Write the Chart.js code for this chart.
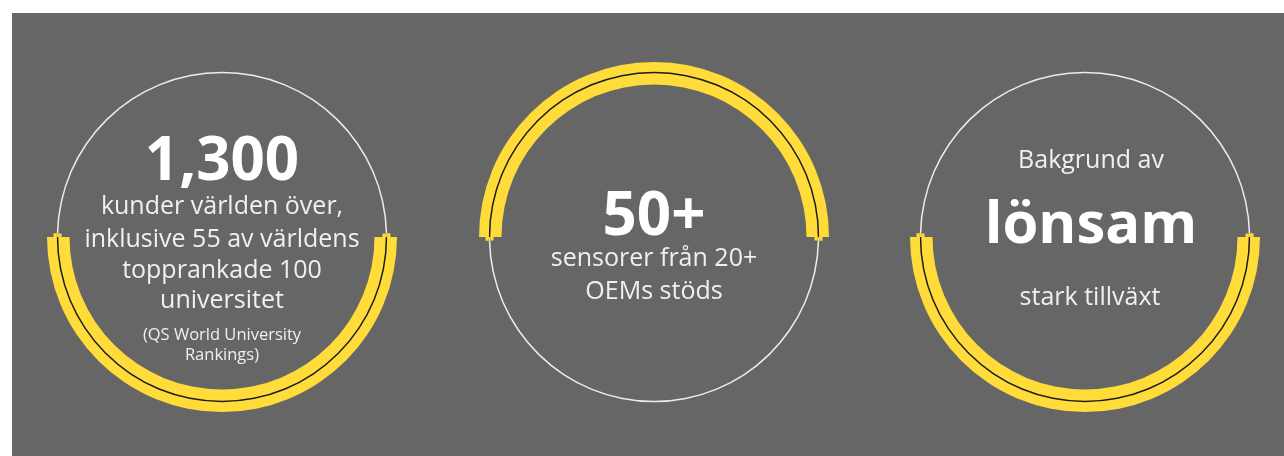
<!DOCTYPE html>
<html lang="sv">
<head>
<meta charset="utf-8">
<title>Nyckeltal</title>
<script src="https://cdn.jsdelivr.net/npm/chart.js@4.4.1/dist/chart.umd.min.js"></script>
<style>
  html, body { margin: 0; padding: 0; background: #fff; width: 1284px; height: 456px; overflow: hidden; font-family: 'Open Sans', sans-serif; }
  .panel { position: absolute; left: 12px; top: 13px; width: 1272px; height: 443px; background: #666666; }
  .ring { position: absolute; width: 380px; height: 380px; top: 47px; }
  .ring canvas { position: absolute; left: 0; top: 0; }
  .txt { position: absolute; width: 400px; text-align: center; line-height: 1; color: #f0f0f0; white-space: nowrap; }
  .big { font-weight: 700; font-size: 60px; color: #fff; }
  .mid { font-size: 25px; }
  .small { font-size: 16.5px; }
</style>
</head>
<body>
<div class="panel"></div>

<div class="ring" style="left:32px"><canvas id="band0" width="380" height="380"></canvas><canvas id="line0" width="380" height="380"></canvas></div>
<div class="ring" style="left:464px"><canvas id="band1" width="380" height="380"></canvas><canvas id="line1" width="380" height="380"></canvas></div>
<div class="ring" style="left:895px"><canvas id="band2" width="380" height="380"></canvas><canvas id="line2" width="380" height="380"></canvas></div>

<!-- circle 1 -->
<div class="txt big" style="left:22px; top:127px">1,300</div>
<div class="txt mid" style="left:22px; top:192px">kunder världen över,</div>
<div class="txt mid" style="left:22px; top:225px">inklusive 55 av världens</div>
<div class="txt mid" style="left:22px; top:256px">topprankade 100</div>
<div class="txt mid" style="left:22px; top:286px">universitet</div>
<div class="txt small" style="left:22px; top:326px">(QS World University</div>
<div class="txt small" style="left:22px; top:346px">Rankings)</div>

<!-- circle 2 -->
<div class="txt big" style="left:454px; top:182px">50+</div>
<div class="txt mid" style="left:454px; top:244px">sensorer från 20+</div>
<div class="txt mid" style="left:454px; top:277px">OEMs stöds</div>

<!-- circle 3 -->
<div class="txt mid" style="left:891px; top:146px">Bakgrund av</div>
<div class="txt big" style="left:891px; top:192px; font-size:58px">lönsam</div>
<div class="txt mid" style="left:890px; top:283px">stark tillväxt</div>

<script>
(function() {
  'use strict';

  // share of each ring that is highlighted (percent) and which half it sits on
  var circleKeys = ['kunder', 'sensorer', 'lonsam'];
  var arcShare = [50, 50, 50];
  var arcSide = ['bottom', 'top', 'bottom'];
  var capShare = 0.35; // small cap past the ends of the yellow arc

  var YELLOW = '#ffdc3a';
  var BLACK = '#1c1c1c';
  var WHITE = '#ececec';
  var NONE = 'rgba(0,0,0,0)';

  function baseOptions(radius, inner, rotation) {
    return {
      responsive: false,
      animation: false,
      events: [],
      rotation: rotation,
      radius: radius,
      cutout: (inner / radius * 100) + '%',
      plugins: {
        legend: { display: false },
        tooltip: { enabled: false }
      }
    };
  }

  // thick yellow band
  function renderBand(id, share, rotation) {
    return new Chart(document.getElementById(id), {
      type: 'doughnut',
      data: {
        labels: ['markerat', 'övrigt'],
        datasets: [{
          data: [share, 100 - share],
          backgroundColor: [YELLOW, NONE],
          borderWidth: 0
        }]
      },
      options: baseOptions(175, 152.5, rotation)
    });
  }

  // thin circle line (black over the band, white elsewhere) plus end caps
  function renderLine(id, share, rotation) {
    var ext = capShare;
    var capData = [ext, share - 2 * ext, 2 * ext, 100 - share - 2 * ext, ext];
    var capColors = [YELLOW, NONE, YELLOW, NONE, YELLOW];
    return new Chart(document.getElementById(id), {
      type: 'doughnut',
      data: {
        labels: ['a', 'b', 'c', 'd', 'e'],
        datasets: [{
          data: capData,
          backgroundColor: capColors,
          borderWidth: 0,
          weight: 3.25
        }, {
          data: [share, ext, 100 - share - 2 * ext, ext],
          backgroundColor: [BLACK, YELLOW, WHITE, YELLOW],
          borderWidth: 0,
          weight: 1.5
        }, {
          data: capData,
          backgroundColor: capColors,
          borderWidth: 0,
          weight: 3.25
        }]
      },
      options: baseOptions(168.5, 160.5, rotation)
    });
  }

  circleKeys.forEach(function(key, i) {
    var rotation = arcSide[i] === 'top' ? -90 : 90;
    renderBand('band' + i, arcShare[i], rotation);
    renderLine('line' + i, arcShare[i], rotation);
  });
})();
</script>
</body>
</html>
